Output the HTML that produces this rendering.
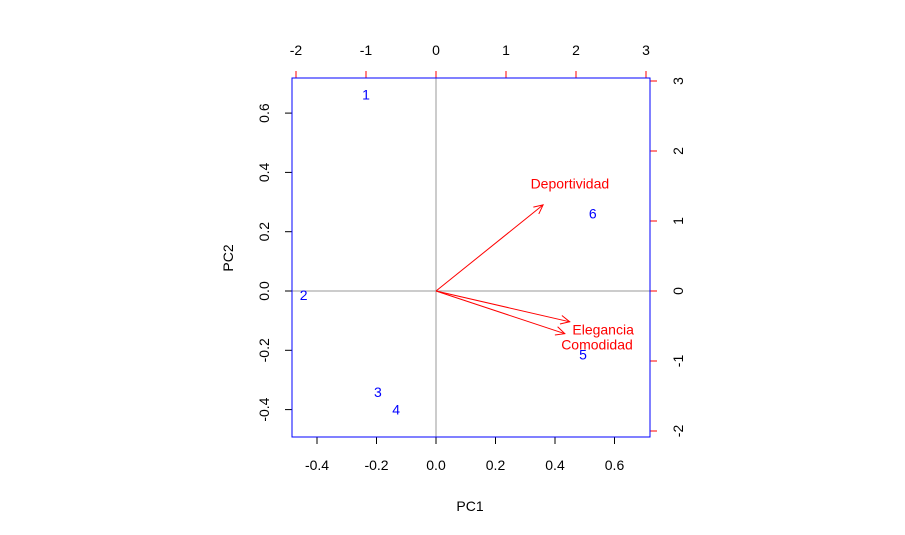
<!DOCTYPE html>
<html><head><meta charset="utf-8"><style>
body{margin:0;background:#fff}
svg{display:block;font-family:"Liberation Sans",Arial,sans-serif}
</style></head><body>
<svg id="chart" width="905" height="535"></svg>
<script>
const obsLabels=["1","2","3","4","5","6"];
const obsX=[-1.0,-1.89,-0.83,-0.57,2.1,2.24];
const obsY=[2.81,-0.06,-1.44,-1.69,-0.91,1.11];
const varNames=["Deportividad","Elegancia","Comodidad"];
const varX=[1.53,1.91,1.84];
const varY=[1.23,-0.44,-0.61];
const pcTicks=[-0.4,-0.2,0.0,0.2,0.4,0.6];
const pcTickLabels=["-0.4","-0.2","0.0","0.2","0.4","0.6"];
const topTicks=[-2,-1,0,1,2,3];

const NS="http://www.w3.org/2000/svg";
const svg=document.getElementById('chart');
const L=292,R=650,T=78,B=437;
const px=v=>436+v*297.5, py=v=>291-v*296.5;
const sx=v=>436+v*70, sy=v=>291-v*70;
function mk(t,a,txt){const e=document.createElementNS(NS,t);for(const k in a)e.setAttribute(k,a[k]);if(txt!=null)e.textContent=txt;svg.appendChild(e);return e;}

let e;
e=mk('line',{x1:L,x2:R,y1:sy(0),y2:sy(0),stroke:'#999','stroke-width':1});

e=mk('line',{x1:sx(0),x2:sx(0),y1:T,y2:B,stroke:'#999','stroke-width':1});


pcTicks.forEach((v,i)=>{
 e=mk('line',{x1:px(v),x2:px(v),y1:B,y2:B+7,stroke:'#000'});
 
 e=mk('text',{x:px(v),y:B+33,'text-anchor':'middle','font-size':14},pcTickLabels[i]);
 
 e=mk('line',{x1:L-7,x2:L,y1:py(v),y2:py(v),stroke:'#000'});
 
 e=mk('text',{x:0,y:0,'text-anchor':'middle','font-size':14,transform:`translate(${L-23},${py(v)}) rotate(-90)`},pcTickLabels[i]);
 
});
topTicks.forEach(v=>{
 e=mk('line',{x1:sx(v),x2:sx(v),y1:T,y2:T-7,stroke:'#f00'});
 
 e=mk('text',{x:sx(v),y:T-23,'text-anchor':'middle','font-size':14},String(v));
 
 e=mk('line',{x1:R,x2:R+7,y1:sy(v),y2:sy(v),stroke:'#f00'});
 
 e=mk('text',{x:0,y:0,'text-anchor':'middle','font-size':14,transform:`translate(${R+33},${sy(v)}) rotate(-90)`},String(v));
 
});
e=mk('rect',{x:L,y:T,width:R-L,height:B-T,fill:'none',stroke:'#00f'});


e=mk('text',{x:470,y:511,'text-anchor':'middle','font-size':14},'PC1');

e=mk('text',{x:0,y:0,'text-anchor':'middle','font-size':14,transform:'translate(233,258) rotate(-90)'},'PC2');


obsLabels.forEach((l,i)=>{
 e=mk('text',{x:sx(obsX[i]),y:sy(obsY[i])+5,'text-anchor':'middle','font-size':14,fill:'#00f'},l);
 
});
varNames.forEach((n,i)=>{
 const x0=sx(0),y0=sy(0),x1=sx(varX[i]),y1=sy(varY[i]);
 e=mk('line',{x1:x0,y1:y0,x2:x1,y2:y1,stroke:'#f00'});
 
 const a=Math.atan2(y1-y0,x1-x0),h=10,s=0.45;
 e=mk('polyline',{points:`${x1-h*Math.cos(a-s)},${y1-h*Math.sin(a-s)} ${x1},${y1} ${x1-h*Math.cos(a+s)},${y1-h*Math.sin(a+s)}`,fill:'none',stroke:'#f00'});
 
 e=mk('text',{x:sx(varX[i]*1.25),y:sy(varY[i]*1.25)+5,'text-anchor':'middle','font-size':14,fill:'#f00'},n);
 
});
</script>
</body></html>
